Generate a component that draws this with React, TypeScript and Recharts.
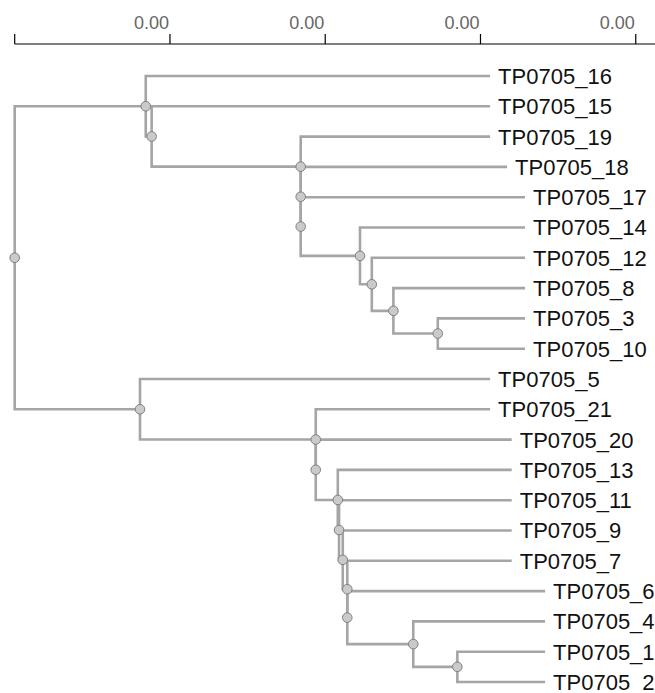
import React from 'react';
import { ScatterChart, Scatter, XAxis, YAxis } from 'recharts';

// leaves, top to bottom
const leafNames = [
  'TP0705_16', 'TP0705_15', 'TP0705_19', 'TP0705_18', 'TP0705_17', 'TP0705_14',
  'TP0705_12', 'TP0705_8', 'TP0705_3', 'TP0705_10', 'TP0705_5', 'TP0705_21',
  'TP0705_20', 'TP0705_13', 'TP0705_11', 'TP0705_9', 'TP0705_7', 'TP0705_6',
  'TP0705_4', 'TP0705_1', 'TP0705_2',
];
// depth where each leaf branch ends
const leafDepths = [
  0.003062, 0.003062, 0.003062, 0.003171, 0.003287, 0.003287,
  0.003287, 0.003287, 0.003287, 0.003287, 0.003062, 0.003062,
  0.003201, 0.003201, 0.003201, 0.003201, 0.003201, 0.003416,
  0.003416, 0.003416, 0.003416,
];

// merges, children listed top child first
const nodeIds = ['J', 'I', 'H', 'G', 'F', 'E', 'D', 'C', 'A', 'S', 'R', 'Q', 'P', 'O', 'N', 'M', 'L', 'K', 'B', 'root'];
const nodeChildren = [
  ['TP0705_3', 'TP0705_10'],
  ['TP0705_8', 'J'],
  ['TP0705_12', 'I'],
  ['TP0705_14', 'H'],
  ['TP0705_17', 'G'],
  ['TP0705_18', 'F'],
  ['TP0705_19', 'E'],
  ['TP0705_15', 'D'],
  ['TP0705_16', 'C'],
  ['TP0705_1', 'TP0705_2'],
  ['TP0705_4', 'S'],
  ['TP0705_6', 'R'],
  ['TP0705_7', 'Q'],
  ['TP0705_9', 'P'],
  ['TP0705_11', 'O'],
  ['TP0705_13', 'N'],
  ['TP0705_20', 'M'],
  ['TP0705_21', 'L'],
  ['TP0705_5', 'K'],
  ['A', 'B'],
];
const nodeDepths = [
  0.002725, 0.002439, 0.0023, 0.002224, 0.001842, 0.001842, 0.001842, 0.000882, 0.000844,
  0.002851, 0.002567, 0.002142, 0.002142, 0.002113, 0.002089, 0.002081, 0.001939, 0.001939, 0.000807,
  0,
];

const axisTicks = [0, 0.001, 0.002, 0.003, 0.004];

const LINE = '#a5a5a5';

// place nodes: leaf rows by index, merges at the middle of their children
const pos: Record<string, { x: number; y: number }> = {};
leafNames.forEach((n, i) => {
  pos[n] = { x: leafDepths[i], y: i };
});
nodeIds.forEach((id, i) => {
  const [a, b] = nodeChildren[i];
  pos[id] = { x: nodeDepths[i], y: (pos[a].y + pos[b].y) / 2 };
});

const edges: { x: number; y: number }[][] = [];
nodeIds.forEach((id, i) => {
  const p = pos[id];
  nodeChildren[i].forEach((c) => {
    const q = pos[c];
    edges.push([
      { x: p.x, y: p.y },
      { x: p.x, y: q.y },
      { x: q.x, y: q.y },
    ]);
  });
});

const nodePoints = nodeIds.map((id) => ({ ...pos[id], id }));
const leafPoints = leafNames.map((n) => ({ ...pos[n], name: n }));

const AxisTick = (props: any) => {
  const { x, y, payload } = props;
  return (
    <text x={x - 1} y={y} textAnchor="end" fill="#666" fontSize={18} fontFamily="Arial, 'Liberation Sans', sans-serif">
      {payload.value === 0 ? '' : Number(payload.value).toFixed(2)}
    </text>
  );
};

export default function App() {
  return (
    <div style={{ position: 'absolute', left: 0, top: 0, background: '#fff' }}>
      <ScatterChart width={655} height={693} margin={{ top: 14, right: 0, bottom: 11, left: 14.7 }}>
        <XAxis
          type="number"
          dataKey="x"
          orientation="top"
          domain={[0, 0.004124]}
          ticks={axisTicks}
          height={30}
          tickSize={10}
          tickMargin={5}
          tick={AxisTick}
          axisLine={{ stroke: '#000', strokeWidth: 1.2 }}
          tickLine={{ stroke: '#000', strokeWidth: 1.2 }}
        />
        <YAxis type="number" dataKey="y" domain={[0, 20]} reversed hide width={0} padding={{ top: 32, bottom: 0 }} />
        {edges.map((pts, i) => (
          <Scatter
            key={'e' + i}
            data={pts}
            line={{ stroke: LINE, strokeWidth: 2.6 }}
            shape={() => <g />}
            isAnimationActive={false}
          />
        ))}
        <Scatter
          data={nodePoints}
          isAnimationActive={false}
          shape={(p: any) => <circle cx={p.cx} cy={p.cy} r={4.8} fill="#cacaca" stroke="#808080" strokeWidth={1} />}
        />
        <Scatter
          data={leafPoints}
          isAnimationActive={false}
          shape={(p: any) => (
            <text
              x={p.cx + 8}
              y={p.cy}
              dy="0.36em"
              fontSize={22}
              fill="#111"
              fontFamily="Arial, 'Liberation Sans', sans-serif"
            >
              {p.payload.name}
            </text>
          )}
        />
      </ScatterChart>
    </div>
  );
}
